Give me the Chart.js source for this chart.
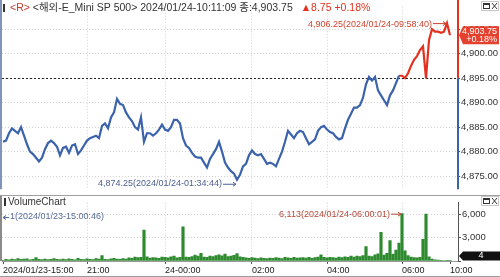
<!DOCTYPE html>
<html>
<head>
<meta charset="utf-8">
<script src="https://cdn.jsdelivr.net/npm/chart.js@4"></script>
<style>
html, body { margin: 0; padding: 0; background: #fff; }
#wrap { position: relative; width: 500px; height: 277px; overflow: hidden; }
canvas { position: absolute; left: 0; }
#priceChart { top: 0; }
#volumeChart { top: 196px; }
</style>
</head>
<body>
<div id="wrap">
  <canvas id="priceChart" width="500" height="196" style="width:500px;height:196px"></canvas>
  <canvas id="volumeChart" width="500" height="81" style="width:500px;height:81px"></canvas>
</div>
<script>
// price samples, left to right (one every few ticks)
const prices = [
  4882.00, 4882.25, 4883.75, 4884.75, 4884.25, 4883.75, 4885.00, 4883.25, 4881.50, 4880.00,
  4879.50, 4878.75, 4878.00, 4878.75, 4880.50, 4881.75, 4882.25, 4881.75, 4881.00, 4879.25,
  4880.75, 4881.00, 4879.75, 4881.25, 4881.50, 4879.50, 4880.25, 4881.25, 4882.25, 4882.75,
  4883.00, 4883.25, 4882.75, 4885.25, 4885.75, 4884.75, 4887.00, 4888.00, 4890.75, 4889.75,
  4889.50, 4888.00, 4887.00, 4886.25, 4885.00, 4884.50, 4887.00, 4882.00, 4883.75, 4883.75,
  4883.25, 4883.75, 4884.50, 4885.50, 4884.50, 4884.25, 4885.00, 4886.50, 4886.50, 4885.75,
  4882.75, 4881.25, 4880.75, 4879.75, 4879.00, 4878.75, 4878.75, 4877.75, 4876.75, 4878.50,
  4879.50, 4880.50, 4882.00, 4880.00, 4877.75, 4876.75, 4876.00, 4875.50, 4874.25, 4875.25,
  4877.00, 4877.50, 4879.25, 4880.25, 4879.50, 4879.25, 4879.50, 4878.50, 4877.50, 4877.75,
  4877.50, 4877.00, 4878.50, 4880.00, 4882.00, 4884.25, 4883.50, 4882.75, 4883.75, 4884.25,
  4884.00, 4882.75, 4881.50, 4882.00, 4882.50, 4884.25, 4885.00, 4885.25, 4884.50, 4884.00,
  4883.75, 4883.00, 4882.50, 4882.75, 4884.75, 4886.50, 4887.75, 4889.00, 4889.00, 4889.50,
  4891.00, 4893.75, 4895.25, 4894.50, 4895.25, 4892.50, 4891.50, 4890.50, 4889.50, 4891.50,
  4892.50, 4894.00, 4895.50, 4895.50, 4895.00, 4896.00, 4897.50, 4898.75, 4899.50, 4900.75,
  4901.50, 4895.00, 4902.75, 4905.00, 4904.50, 4904.50, 4904.25, 4904.50, 4906.25, 4903.75
];

// volume for the same samples
const volumes = [
  1, 220, 150, 260, 180, 300, 200, 240, 280, 160,
  210, 450, 230, 190, 260, 170, 220, 320, 200, 180,
  240, 170, 290, 220, 160, 350, 210, 190, 270, 230,
  180, 300, 250, 700, 220, 190, 280, 360, 240, 200,
  320, 260, 400, 350, 520, 430, 480, 4000, 550, 380,
  450, 400, 360, 520, 480, 410, 550, 620, 400, 480,
  4400, 520, 460, 580, 750, 640, 1000, 520, 480, 620,
  560, 700, 800, 660, 900, 580, 620, 720, 950, 540,
  480, 400, 350, 430, 380, 320, 410, 360, 300, 390,
  340, 430, 380, 320, 460, 400, 350, 480, 370, 410,
  440, 390, 480, 350, 430, 520, 800, 460, 400, 480,
  430, 380, 500, 450, 550, 480, 650, 520, 620, 560,
  700, 1850, 640, 580, 800, 920, 3700, 750, 1000, 2650,
  900, 1400, 2300, 6113, 1300, 700, 520, 450, 400, 480,
  2800, 6050, 550, 250, 150, 120, 90, 70, 50, 4
];

const timeTickIndex = [0, 28, 54, 83, 108, 133, 149];
const timeTickLabels = ['2024/01/23-15:00', '21:00', '24-00:00', '02:00', '04:00', '06:00', '10:00'];
const priceTicks = [4875, 4880, 4885, 4890, 4895, 4900, 4905];
const volumeTicks = [0, 3000, 6000];

const prevClose = 4895.00;
const lastPrice = 4903.75;
const lastVolume = 4;
const lastTime = '2024/01/24-10:11:09';
const highTime = '2024/01/24-09:58:40';
const lowTime = '2024/01/24-01:34:44';
const volHighTime = '2024/01/24-06:00:01';
const volLowTime = '2024/01/23-15:00:46';

const FONT = '"Liberation Sans", "Noto Sans CJK KR", sans-serif';
const BLUE = '#3a63ab';
const RED = '#e2321f';
const GREEN = '#2e8a2e';
const GRID = '#d2d2d2';

Chart.defaults.font.family = FONT;
Chart.defaults.font.size = 9;

function fmt(v, d) {
  const parts = v.toFixed(d).split('.');
  parts[0] = parts[0].replace(/\B(?=(\d{3})+(?!\d))/g, ',');
  return parts.join('.');
}

function line(ctx, x0, y0, x1, y1) {
  ctx.beginPath(); ctx.moveTo(x0, y0); ctx.lineTo(x1, y1); ctx.stroke();
}

function arrowRight(ctx, x0, x1, y) {
  line(ctx, x0, y, x1, y);
  ctx.beginPath(); ctx.moveTo(x1 - 3, y - 2); ctx.lineTo(x1, y); ctx.lineTo(x1 - 3, y + 2); ctx.stroke();
}

function winIcons(ctx, y) {
  ctx.strokeStyle = '#c8c8c8'; ctx.lineWidth = 1;
  ctx.strokeRect(481.5, y - 0.5, 17, 9);
  ctx.strokeStyle = '#333';
  ctx.strokeRect(483.5, y + 1.5, 6, 5);
  ctx.fillStyle = '#333'; ctx.fillRect(483, y + 1, 7, 2);
  line(ctx, 492, y + 1, 497, y + 7);
  line(ctx, 497, y + 1, 492, y + 7);
}

function tag(ctx, x, y, w, h, color) {
  ctx.fillStyle = color;
  ctx.beginPath();
  ctx.moveTo(x, y); ctx.lineTo(x + 4, y - h / 2); ctx.lineTo(x + w, y - h / 2);
  ctx.lineTo(x + w, y + h / 2); ctx.lineTo(x + 4, y + h / 2); ctx.closePath();
  ctx.fill();
}

const hideEnds = c => (c.tick && (c.tick.value === 0 || c.tick.value === 149)) ? 'rgba(0,0,0,0)' : GRID;

const pricePaint = {
  id: 'pricePaint',
  beforeDatasetsDraw(chart) {
    const {ctx, chartArea: a, scales: {y}} = chart;
    const yb = Math.round(y.getPixelForValue(prevClose)) + 0.5;
    ctx.save();
    ctx.strokeStyle = '#222'; ctx.lineWidth = 1; ctx.setLineDash([2, 2]);
    line(ctx, a.left, yb, a.right, yb);
    ctx.restore();
  },
  afterDraw(chart) {
    const {ctx, chartArea: a, scales: {x, y}} = chart;
    const yb = y.getPixelForValue(prevClose);
    ctx.save();
    ctx.lineWidth = 2;
    ctx.strokeStyle = RED; line(ctx, a.right, 0, a.right, yb);
    ctx.strokeStyle = BLUE; line(ctx, a.right, yb, a.right, a.bottom);
    ctx.strokeStyle = '#8093bb'; line(ctx, 1, 0, 1, a.bottom);
    ctx.lineWidth = 1; ctx.strokeStyle = '#a0a0a0'; line(ctx, 0, 195.5, 500, 195.5);

    // header
    ctx.font = '10.5px ' + FONT; ctx.textBaseline = 'middle'; ctx.textAlign = 'left';
    ctx.fillStyle = '#333'; ctx.fillRect(3, 4, 2, 8);
    let tx = 10;
    ctx.fillStyle = '#c0392b'; ctx.fillText('<R>', tx, 8);
    tx += ctx.measureText('<R> ').width;
    const head = '<해외-E_Mini SP 500> ' + lastTime + ' 종:' + fmt(lastPrice, 2);
    ctx.fillStyle = '#333'; ctx.fillText(head, tx, 8);
    tx += ctx.measureText(head).width + 8;
    const chg = lastPrice - prevClose;
    const pct = (chg / prevClose * 100).toFixed(2);
    ctx.fillStyle = RED; ctx.fillText('▲' + fmt(chg, 2) + ' +' + pct + '%', tx, 8);

    // high / low marks
    ctx.font = '9px ' + FONT;
    const hi = prices.indexOf(Math.max(...prices));
    const lo = prices.indexOf(Math.min(...prices));
    const hx = x.getPixelForValue(hi), hy = y.getPixelForValue(prices[hi]);
    const lx = x.getPixelForValue(lo), ly = y.getPixelForValue(prices[lo]);
    ctx.lineWidth = 1;
    ctx.fillStyle = ctx.strokeStyle = '#cf4330';
    ctx.textAlign = 'right';
    ctx.fillText(fmt(prices[hi], 2) + '(' + highTime + ')', hx - 15, hy + 1);
    arrowRight(ctx, hx - 14, hx - 1, hy + 0.5);
    ctx.fillStyle = ctx.strokeStyle = '#4d5f92';
    ctx.fillText(fmt(prices[lo], 2) + '(' + lowTime + ')', lx - 15, ly + 4);
    arrowRight(ctx, lx - 14, lx - 1, ly + 4.5);

    // last price tag
    const py = y.getPixelForValue(lastPrice);
    tag(ctx, a.right + 1, py, 40, 18, '#e4402e');
    ctx.font = '9px ' + FONT;
    ctx.fillStyle = '#fff'; ctx.textAlign = 'right';
    ctx.fillText(fmt(lastPrice, 2), 497, py - 4);
    ctx.fillText('+' + pct + '%', 497, py + 4.5);

    winIcons(ctx, 2);
    ctx.restore();
  }
};

const volumePaint = {
  id: 'volumePaint',
  afterDraw(chart) {
    const {ctx, chartArea: a, scales: {x, y}} = chart;
    ctx.save();
    ctx.lineWidth = 2; ctx.strokeStyle = '#8a8a8a'; line(ctx, 1, 0, 1, a.bottom);
    ctx.lineWidth = 1; ctx.strokeStyle = '#9a9a9a'; line(ctx, 0, 80.5, 500, 80.5);

    ctx.font = '10px ' + FONT; ctx.textBaseline = 'middle'; ctx.textAlign = 'left';
    ctx.fillStyle = '#333'; ctx.fillRect(4, 2, 2, 8);
    ctx.fillText('VolumeChart', 8, 6);

    // lowest volume note
    ctx.font = '9px ' + FONT;
    ctx.fillStyle = ctx.strokeStyle = '#5a6b9a'; ctx.lineWidth = 1;
    line(ctx, 3, 21.5, 9, 21.5);
    ctx.beginPath(); ctx.moveTo(6, 19.5); ctx.lineTo(3, 21.5); ctx.lineTo(6, 23.5); ctx.stroke();
    const vmin = Math.min(...volumes);
    ctx.fillText(fmt(vmin, 0) + '(' + volLowTime + ')', 10, 21);

    // highest volume note
    const vi = volumes.indexOf(Math.max(...volumes));
    const vx = x.getPixelForValue(vi), vy = y.getPixelForValue(volumes[vi]);
    ctx.fillStyle = ctx.strokeStyle = '#b54a3a'; ctx.textAlign = 'right';
    ctx.fillText(fmt(volumes[vi], 0) + '(' + volHighTime + ')', vx - 12, vy + 1);
    arrowRight(ctx, vx - 11, vx - 1, vy + 0.5);

    // last volume tag
    const ty = Math.min(y.getPixelForValue(lastVolume), a.bottom - 5);
    tag(ctx, a.right + 1, ty, 41, 9, '#111');
    ctx.fillStyle = '#fff'; ctx.textAlign = 'center';
    ctx.fillText(String(lastVolume), 481, ty);

    winIcons(ctx, 1);
    ctx.restore();
  }
};

const xAxis = (showLabels) => ({
  type: 'linear',
  min: -1 / 3,
  max: 151 + 2 / 3,
  offset: false,
  afterBuildTicks: s => { s.ticks = timeTickIndex.map(v => ({ value: v })); },
  ticks: {
    display: showLabels,
    autoSkip: false,
    maxRotation: 0,
    minRotation: 0,
    align: 'start',
    padding: 1,
    color: '#222',
    callback: (v, i) => timeTickLabels[i]
  },
  grid: { color: hideEnds, offset: false, drawTicks: showLabels, tickLength: 3, tickColor: '#555', tickBorderDash: [] },
  border: { display: showLabels, color: '#999', dash: [1, 2] },
  afterFit: s => { s.height = showLabels ? 16 : 0; }
});

new Chart(document.getElementById('priceChart'), {
  type: 'line',
  data: {
    datasets: [{
      data: prices.map((v, i) => ({ x: i, y: v })),
      borderColor: BLUE,
      borderWidth: 2.2,
      pointRadius: 0,
      tension: 0,
      segment: {
        borderColor: c => (c.p0.parsed.y + c.p1.parsed.y) / 2 > prevClose ? RED : BLUE
      }
    }]
  },
  options: {
    responsive: false,
    animation: false,
    devicePixelRatio: 1,
    events: [],
    layout: { padding: { left: 2, top: 1, right: 0, bottom: 1 } },
    plugins: { legend: { display: false }, tooltip: { enabled: false } },
    scales: {
      x: xAxis(false),
      y: {
        position: 'right',
        min: 4872.3,
        max: 4909.6,
        afterBuildTicks: s => { s.ticks = priceTicks.map(v => ({ value: v })); },
        ticks: {
          padding: 1,
          color: '#333',
          font: { size: 9.5 },
          callback: v => fmt(v, 2)
        },
        grid: { color: GRID, tickColor: '#555', tickLength: 2, tickBorderDash: [] },
        border: { display: false, dash: [1, 2] },
        afterFit: s => { s.width = 42; }
      }
    }
  },
  plugins: [pricePaint]
});

new Chart(document.getElementById('volumeChart'), {
  type: 'bar',
  data: {
    datasets: [{
      data: volumes.map((v, i) => ({ x: i, y: v })),
      backgroundColor: GREEN,
      barThickness: 2.5
    }]
  },
  options: {
    responsive: false,
    animation: false,
    devicePixelRatio: 1,
    events: [],
    layout: { padding: { left: 2, top: 1, right: 0, bottom: 0 } },
    plugins: { legend: { display: false }, tooltip: { enabled: false } },
    scales: {
      x: xAxis(true),
      y: {
        position: 'right',
        min: 0,
        max: 7530,
        afterBuildTicks: s => { s.ticks = volumeTicks.map(v => ({ value: v })); },
        ticks: {
          padding: 1,
          color: '#333',
          font: { size: 9.5 },
          callback: v => v === 0 ? '' : fmt(v, 0)
        },
        grid: { color: GRID, tickColor: '#555', tickLength: 3, tickBorderDash: [] },
        border: { display: true, color: '#555', dash: [1, 2] },
        afterFit: s => { s.width = 42; }
      }
    }
  },
  plugins: [volumePaint]
});
</script>
</body>
</html>
